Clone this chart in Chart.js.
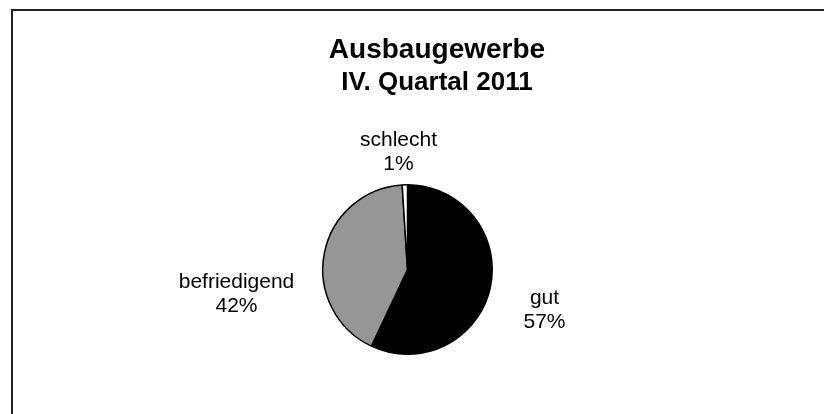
<!DOCTYPE html>
<html>
<head>
<meta charset="utf-8">
<script src="https://cdn.jsdelivr.net/npm/chart.js@4/dist/chart.umd.min.js"></script>
<style>
  html, body { margin: 0; padding: 0; background: #fff; }
  #wrap { width: 824px; height: 414px; }
</style>
</head>
<body>
<div id="wrap"><canvas id="chart" width="824" height="414"></canvas></div>
<script>
// ---------------- Daten ----------------
const categories = ["gut", "befriedigend", "schlecht"];
const shares = [57, 42, 1];
const percentLabels = ["57%", "42%", "1%"];
const sliceColors = ["#000000", "#969696", "#ffffff"];
const titleLines = ["Ausbaugewerbe", "IV. Quartal 2011"];

const FONT = "'Liberation Sans', Arial, sans-serif";

// Rahmen (oben + links, rechts/unten ausserhalb des Bildes)
const framePlugin = {
  id: "frame",
  beforeDraw(chart) {
    const c = chart.ctx;
    c.save();
    c.strokeStyle = "#222";
    c.lineWidth = 2;
    c.beginPath();
    c.moveTo(12, chart.height + 2);
    c.lineTo(12, 10);
    c.lineTo(chart.width + 2, 10);
    c.stroke();
    c.restore();
  }
};

// Titel (zwei Zeilen, verschiedene Groessen)
const titlePlugin = {
  id: "twoLineTitle",
  afterDraw(chart) {
    const c = chart.ctx;
    c.save();
    c.fillStyle = "#000";
    c.textAlign = "center";
    c.textBaseline = "alphabetic";
    c.font = `bold 28px ${FONT}`;
    c.fillText(titleLines[0], 437, 58);
    c.font = `bold 26px ${FONT}`;
    c.fillText(titleLines[1], 437, 90);
    c.restore();
  }
};

// Beschriftung der Segmente: Kategorie + Prozent
const sliceLabelPlugin = {
  id: "sliceLabels",
  afterDatasetsDraw(chart, args, opts) {
    const c = chart.ctx;
    const arcs = chart.getDatasetMeta(0).data;
    c.save();
    c.fillStyle = "#000";
    c.textAlign = "center";
    c.textBaseline = "alphabetic";
    c.font = `21px ${FONT}`;
    arcs.forEach((arc, i) => {
      const [dx, dy] = opts.offsets[i];
      const x = arc.x + dx;
      const y = arc.y + dy;
      c.fillText(categories[i], x, y);
      c.fillText(percentLabels[i], x, y + 24);
    });
    c.restore();
  }
};

new Chart(document.getElementById("chart"), {
  type: "pie",
  data: {
    labels: categories,
    datasets: [{
      data: shares,
      backgroundColor: sliceColors,
      borderColor: "#000",
      borderWidth: 1.5
    }]
  },
  options: {
    responsive: false,
    animation: false,
    layout: { padding: { left: 322, right: 331, top: 184, bottom: 59 } },
    plugins: {
      legend: { display: false },
      tooltip: { enabled: false },
      sliceLabels: {
        offsets: [[137, 34], [-171, 18], [-9, -124]]
      }
    }
  },
  plugins: [framePlugin, titlePlugin, sliceLabelPlugin]
});
</script>
</body>
</html>
